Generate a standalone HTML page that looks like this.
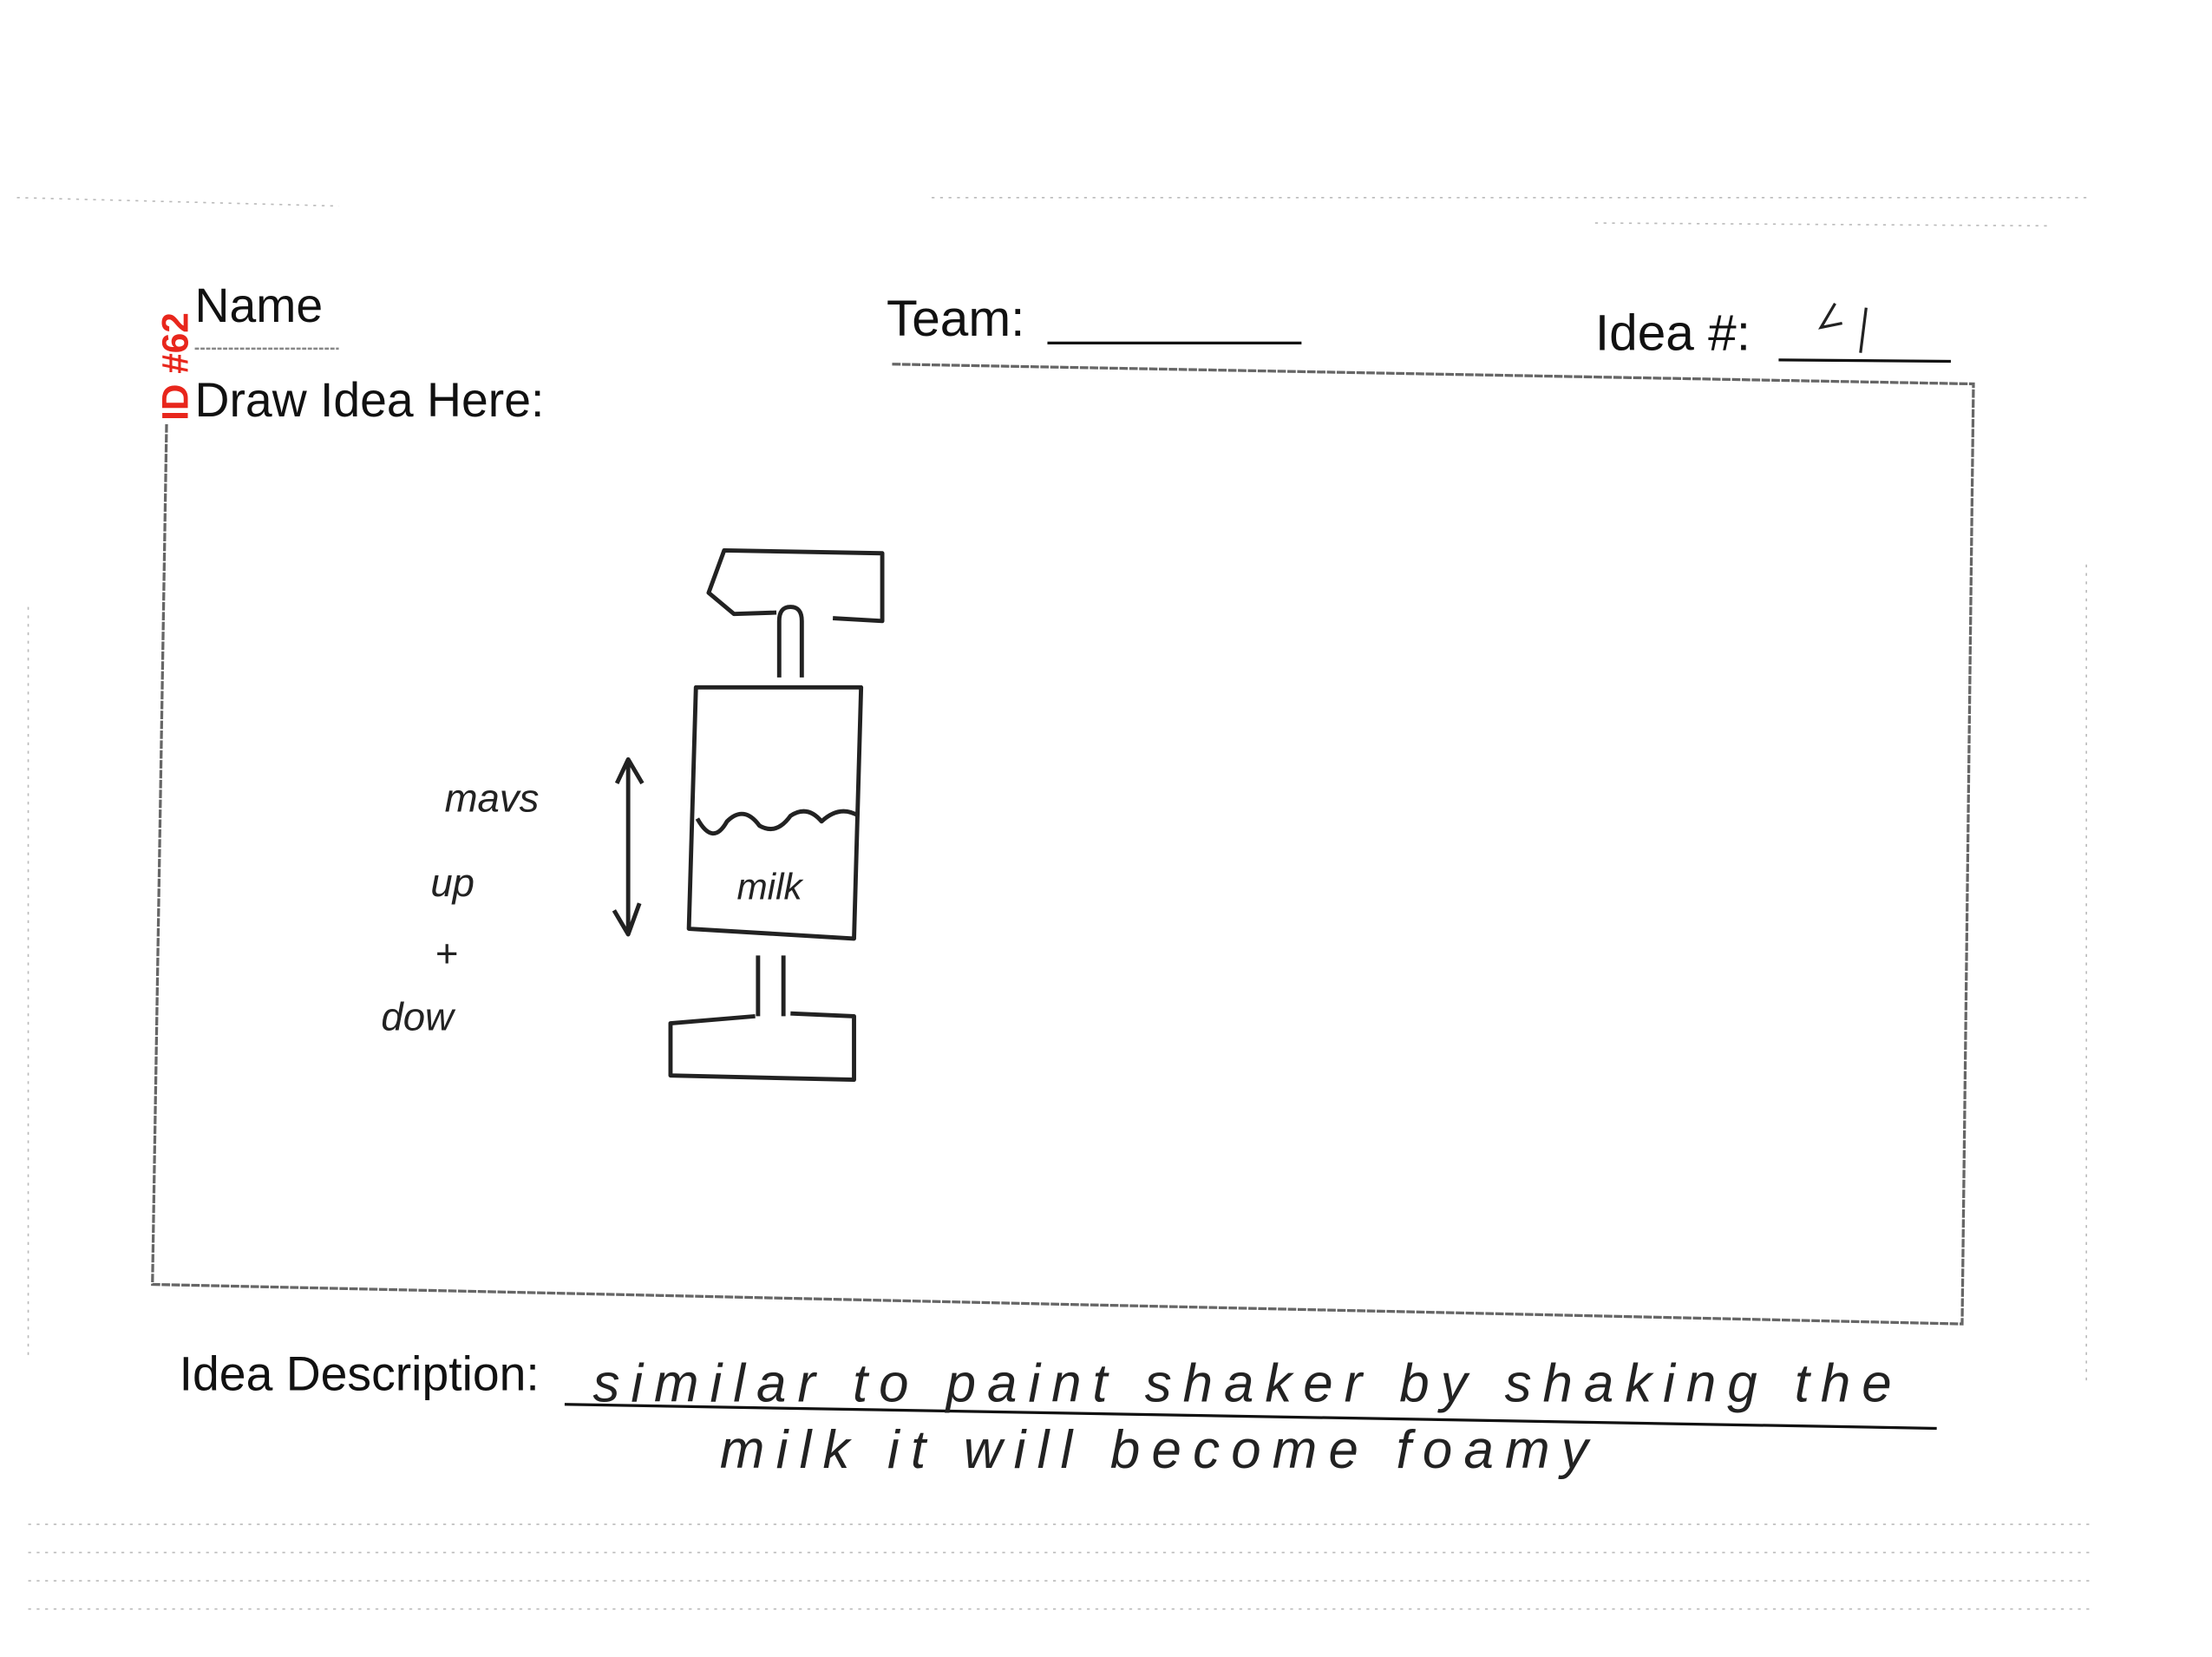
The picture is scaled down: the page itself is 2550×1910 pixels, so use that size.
<!DOCTYPE html>
<html><head><style>
html,body{margin:0;padding:0;background:#fff;}
svg{display:block;}
.t{font-family:"Liberation Sans",sans-serif;fill:#111;}
.h{font-family:"Liberation Sans",sans-serif;font-style:italic;fill:#222;}
</style></head><body>
<svg width="2550" height="1910" viewBox="0 0 1567 1174" preserveAspectRatio="none" xmlns="http://www.w3.org/2000/svg">
<rect width="1567" height="1174" fill="#fff"/>
<g stroke="#bbb" stroke-width="1" stroke-dasharray="2 4" fill="none">
<line x1="12" y1="140" x2="240" y2="146"/>
<line x1="660" y1="140" x2="1480" y2="140"/>
<line x1="1130" y1="158" x2="1450" y2="160"/>
<line x1="20" y1="1080" x2="1480" y2="1080"/>
<line x1="20" y1="1100" x2="1480" y2="1100"/>
<line x1="20" y1="1120" x2="1480" y2="1120"/>
<line x1="20" y1="1140" x2="1480" y2="1140"/>
<line x1="1478" y1="400" x2="1478" y2="980"/>
<line x1="20" y1="430" x2="20" y2="960"/>
</g>
<text class="t" x="138" y="228" font-size="34">Name</text>
<text x="0" y="0" transform="translate(133,298) rotate(-90)" font-family="Liberation Sans,sans-serif" font-size="26" font-weight="bold" fill="#e8261c">ID #62</text>
<line x1="138" y1="247" x2="240" y2="247" stroke="#888" stroke-width="1.5" stroke-dasharray="3 1"/>
<text class="t" x="628" y="238" font-size="36">Team:</text>
<line x1="742" y1="243" x2="922" y2="243" stroke="#111" stroke-width="2"/>
<text class="t" x="1130" y="248" font-size="36">Idea #:</text>
<line x1="1260" y1="255" x2="1382" y2="256" stroke="#111" stroke-width="2"/>
<path d="M1300 215 L1290 232 L1305 229 M1322 218 L1318 250" stroke="#222" stroke-width="2" fill="none"/>
<text class="t" x="138" y="295" font-size="34">Draw Idea Here:</text>
<g stroke="#666" stroke-width="2" fill="none" stroke-dasharray="6 1">
<path d="M632 258 L1398 272 L1390 938 L108 910 L118 300"/>
</g>
<g stroke="#222" stroke-width="3" fill="none" stroke-linejoin="round">
<path d="M550 434 L520 435 L502 420 L513 390 L625 392 L625 440 L590 438"/>
<path d="M552 480 L552 440 Q552 430 560 430 Q568 430 568 440 L568 480"/>
<path d="M493 487 L610 487 L605 665 L488 658 Z"/>
<path d="M494 580 Q505 600 515 582 Q527 570 538 585 Q550 592 560 578 Q572 570 582 582 Q595 570 608 578"/>
<path d="M537 677 L537 720 M555 677 L555 720"/>
<path d="M535 720 L475 725 L475 762 L605 765 L605 720 L560 718"/>
<path d="M445 538 L445 662 M437 555 L445 538 L455 555 M435 645 L445 662 L453 640"/>
</g>
<text class="h" x="522" y="637" font-size="26">milk</text>
<text class="h" x="315" y="575" font-size="28">mavs</text>
<text class="h" x="305" y="635" font-size="28">up</text>
<text class="h" x="308" y="685" font-size="28">+</text>
<text class="h" x="270" y="730" font-size="28">dow</text>
<text class="t" x="127" y="985" font-size="34">Idea Description:</text>
<line x1="400" y1="995" x2="1372" y2="1012" stroke="#111" stroke-width="2"/>
<text class="h" x="420" y="993" font-size="38" textLength="920" lengthAdjust="spacing">similar  to  paint  shaker  by shaking  the</text>
<text class="h" x="510" y="1040" font-size="38" textLength="615" lengthAdjust="spacing">milk  it  will  become  foamy</text>
</svg>
</body></html>
